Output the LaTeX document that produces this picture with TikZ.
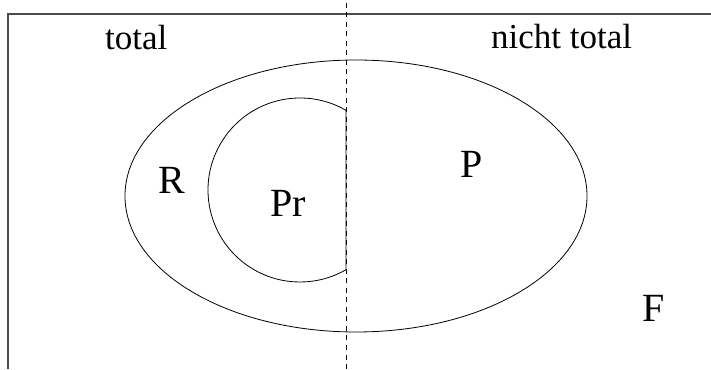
\documentclass[tikz,border=0pt]{standalone}
\usepackage{fontspec}
\setmainfont{Liberation Serif}
\usepackage{tikz}
\usetikzlibrary{positioning}

\begin{document}
\begin{tikzpicture}[x=1pt, y=1pt,
        % Define styles
        frame/.style={draw=black!70, line width=1.4pt},
        border/.style={draw, line width=0.8pt, dash pattern=on 5pt off 4.5pt},
        setline/.style={draw, line width=0.8pt},
        toplabel/.style={inner sep=0pt, anchor=base west, font=\fontsize{35}{40}\selectfont},
        setlabel/.style={inner sep=0pt, anchor=base west, font=\fontsize{40}{46}\selectfont}
    ]
    \useasboundingbox (0,0) rectangle (711,369);

    % --- Frame and divider ---
    \coordinate (fbot) at (8,0);
    \coordinate (fcorner) at (8,355);
    \coordinate (fright) at (711,355);
    \draw[frame] (fbot) -- (fcorner) -- (fright);
    \coordinate (dtop) at (346,369);
    \coordinate (dbot) at (346,0);
    \draw[border] (dbot) -- (dtop);

    % --- Sets ---
    \coordinate (ellc) at (356,173);
    \draw[setline] (ellc) ellipse [x radius=231, y radius=136];
    \coordinate (prc) at (300,179);
    \draw[setline] (prc) ++(60:92) arc [start angle=60, end angle=300, radius=92] -- cycle;

    % --- Labels ---
    \node[toplabel] (total) at (105,319) {total};
    \node[toplabel] (ntotal) at (491,320) {nicht total};
    \node[setlabel] (R) at (158,175) {R};
    \node[setlabel] (Pr) at (270,152) {Pr};
    \node[setlabel] (P) at (460,191) {P};
    \node[setlabel] (F) at (642,47) {F};

\end{tikzpicture}
\end{document}
